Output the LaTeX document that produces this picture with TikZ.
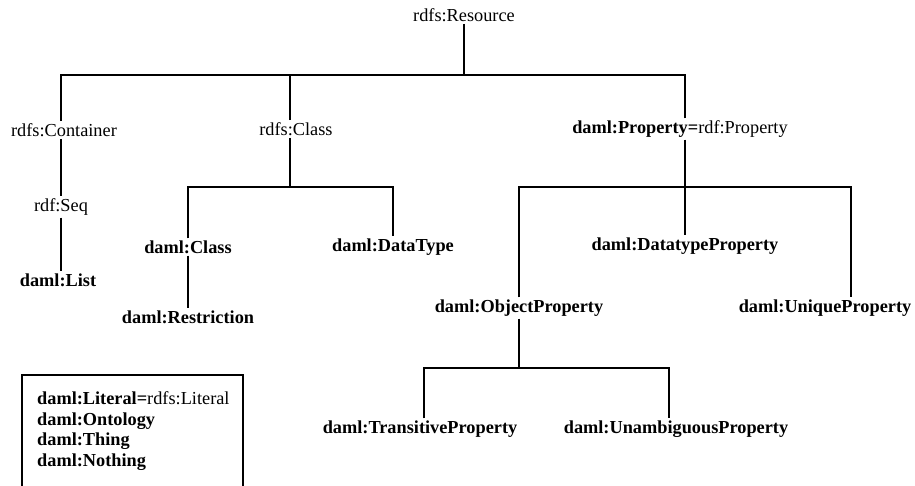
\documentclass[tikz,border=0pt]{standalone}
\usepackage{fontspec}
\setmainfont{Liberation Serif}
\tikzset{
  lbl/.style={font=\fontsize{18.3}{22}\selectfont, inner sep=2pt},
  tree/.style={line width=1.2pt}
}
\begin{document}
\begin{tikzpicture}[x=1pt,y=-1pt]
        \useasboundingbox (0,0) rectangle (915,486);
        \clip (0,0) rectangle (915,486);

        % Racine et premier niveau
        \path(464,15) node[lbl] (res) {rdfs:Resource};
        \path(64,130) node[lbl] (cont) {rdfs:Container};
        \path(296,129) node[lbl] (rclass) {rdfs:Class};
        \path(680,129) node[lbl] (prop) {\textbf{daml:Property=}rdf:Property};

        % Sous rdfs:Container
        \path(61,207) node[lbl] (seq) {rdf:Seq};
        \path(58,280) node[lbl] (list) {\textbf{daml:List}};

        % Sous rdfs:Class
        \path(188,247) node[lbl] (dclass) {\textbf{daml:Class}};
        \path(393,247) node[lbl] (dtype) {\textbf{daml:DataType}};
        \path(188,317) node[lbl] (restr) {\textbf{daml:Restriction}};

        % Sous daml:Property
        \path(685,246) node[lbl] (dtprop) {\textbf{daml:DatatypeProperty}};
        \path(519,308) node[lbl] (objprop) {\textbf{daml:ObjectProperty}};
        \path(825,308) node[lbl] (uniq) {\textbf{daml:UniqueProperty}};
        \path(420,429) node[lbl] (trans) {\textbf{daml:TransitiveProperty}};
        \path(676,429) node[lbl] (unamb) {\textbf{daml:UnambiguousProperty}};

        % Liens
        \coordinate (b1) at (464,75);
        \coordinate (b2) at (290,187);
        \coordinate (b3) at (685,187);
        \coordinate (b4) at (519,368);
        \draw[tree] (res) -- (b1);
        \draw[tree] ([xshift=-3pt]cont.north) |- (b1);
        \draw[tree] ([xshift=5pt]prop.north) |- (b1);
        \draw[tree] ([xshift=-6pt]rclass.north) -- ([xshift=-6pt]rclass.north |- b1);
        \draw[tree] ([xshift=-3pt]cont.south) -- (seq);
        \draw[tree] (seq) -- ([xshift=3pt]list.north);
        \draw[tree] ([xshift=-6pt]rclass.south) -- (b2);
        \draw[tree] (dclass) |- (b2) -| (dtype);
        \draw[tree] (dclass) -- (restr);
        \draw[tree] ([xshift=5pt]prop.south) -- (dtprop);
        \draw[tree] (objprop) |- (b3) -| ([xshift=26pt]uniq.north);
        \draw[tree] (objprop) -- (b4);
        \draw[tree] ([xshift=4pt]trans.north) |- (b4) -| ([xshift=-7pt]unamb.north);

        % Cadre des autres classes
        \draw[tree] (22,375) rectangle (243,520);
        \path(37,404) node[lbl,anchor=base west,inner sep=0pt] (lit) {\textbf{daml:Literal=}rdfs:Literal};
        \path(37,425) node[lbl,anchor=base west,inner sep=0pt] (onto) {\textbf{daml:Ontology}};
        \path(37,445) node[lbl,anchor=base west,inner sep=0pt] (thing) {\textbf{daml:Thing}};
        \path(37,466) node[lbl,anchor=base west,inner sep=0pt] (noth) {\textbf{daml:Nothing}};
\end{tikzpicture}
\end{document}
